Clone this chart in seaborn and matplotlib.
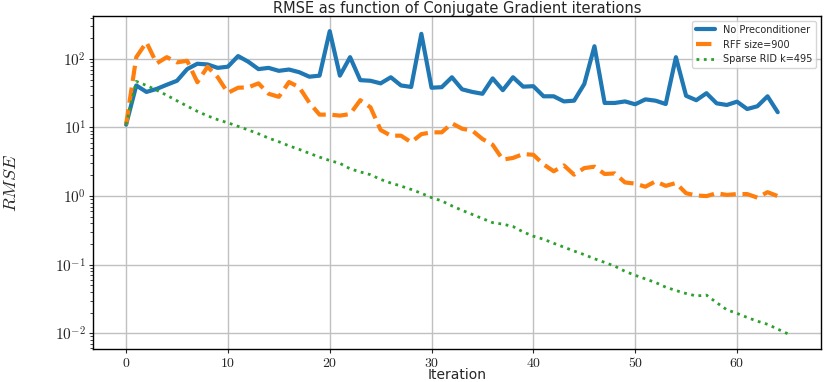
import math
import matplotlib
matplotlib.use("Agg")
import matplotlib.pyplot as plt
import seaborn as sns
from matplotlib.ticker import FuncFormatter, FixedLocator

# values
no_precond = [11, 41, 33, 36.5, 42, 48, 71, 85, 83, 74,
              77, 110, 91, 71, 74, 67, 70, 64, 55, 57,
              254, 57, 106, 49, 48, 44, 54, 41, 39, 232,
              38, 38.7, 54, 36, 33, 31, 52, 35, 54, 39.4,
              40, 28.5, 28.5, 24, 24.6, 43, 153, 22.8, 22.8, 24,
              21.8, 25.7, 24.6, 22, 106, 29, 25, 31.6, 22.5, 21.3,
              23.8, 18.6, 20.4, 28.5, 16.7]
rff = [11, 106, 175, 86, 106, 89, 94, 45.7, 77, 54,
       32, 38, 38.5, 44, 31, 28, 46, 38.7, 23, 15.4,
       15.4, 14.9, 15.7, 25, 19.7, 9.2, 7.6, 7.6, 6.1, 8.0,
       8.5, 8.5, 11.5, 9.6, 9, 6.8, 5.6, 3.4, 3.6, 4.1,
       4.0, 2.9, 2.3, 2.8, 2.05, 2.56, 2.68, 2.1, 2.14, 1.58,
       1.52, 1.37, 1.64, 1.41, 1.55, 1.1, 1.02, 1.0, 1.1, 1.04,
       1.07, 1.07, 0.95, 1.14, 1.0]
sparse_rid = [11, 47, 41, 35, 29.5, 24.5, 20.5, 17.2, 14.8, 13,
              11.7, 10.4, 9.2, 8.1, 7.0, 6.2, 5.4, 4.8, 4.2, 3.7,
              3.3, 3.0, 2.5, 2.25, 2.05, 1.75, 1.55, 1.4, 1.25, 1.1,
              0.95, 0.85, 0.72, 0.62, 0.54, 0.47, 0.41, 0.39, 0.36, 0.30,
              0.26, 0.235, 0.205, 0.18, 0.158, 0.14, 0.122, 0.108, 0.095, 0.08,
              0.07, 0.062, 0.055, 0.047, 0.042, 0.038, 0.035, 0.036, 0.028, 0.022,
              0.0195, 0.017, 0.015, 0.0135, 0.0115, 0.0098]

l0 = 'No Preconditioner'
l1 = 'RFF size=900'
l2 = 'Sparse RID k=495'

xticks = [0, 10, 20, 30, 40, 50, 60]
yticks = [1e-2, 1e-1, 1e0, 1e1, 1e2]

clr = sns.color_palette("tab10")

sns.set_style("ticks")
plt.rcParams['font.family'] = ['DejaVu Sans']
plt.rcParams['mathtext.fontset'] = 'cm'

fig = plt.figure(figsize=(8.31, 3.82), dpi=100)
ax = fig.add_axes([93/831, 1 - 349/382, (821 - 93)/831, (349 - 16)/382])

sns.lineplot(x=list(range(len(no_precond))), y=no_precond, color=clr[0], linewidth=3, label=l0, ax=ax)
sns.lineplot(x=list(range(len(rff))), y=rff, color=clr[1], linewidth=3, linestyle='--', label=l1, ax=ax)
sns.lineplot(x=list(range(len(sparse_rid))), y=sparse_rid, color=clr[2], linewidth=2, linestyle=':', label=l2, ax=ax)

ax.set_yscale('log')
ax.xaxis.set_major_locator(FixedLocator(xticks))
ax.xaxis.set_major_formatter(FuncFormatter(lambda v, p: r"$%d$" % v))
ax.yaxis.set_major_locator(FixedLocator(yticks))
ax.yaxis.set_major_formatter(FuncFormatter(lambda v, p: r"$10^{%d}$" % round(math.log10(v))))
ax.tick_params(axis='y', labelsize=11, length=3, pad=2)
ax.tick_params(axis='x', labelsize=10, length=3, pad=2)
ax.tick_params(axis='y', which='minor', length=2)
ax.grid(True, color='#c0c0c0', linewidth=1)
for s in ax.spines.values():
    s.set_color('black')
    s.set_linewidth(1)

ax.set_title("RMSE as function of Conjugate Gradient iterations", fontsize=10.5, pad=2)
ax.set_xlabel("Iteration", fontsize=10)
ax.xaxis.set_label_coords(0.5, -0.058)
ax.set_ylabel(r"$RMSE$", fontsize=13)
ax.yaxis.set_label_coords(-0.1, 0.5)
ax.legend(loc='upper right', prop={'size': 7})

plt.savefig("out.png", dpi=100)
